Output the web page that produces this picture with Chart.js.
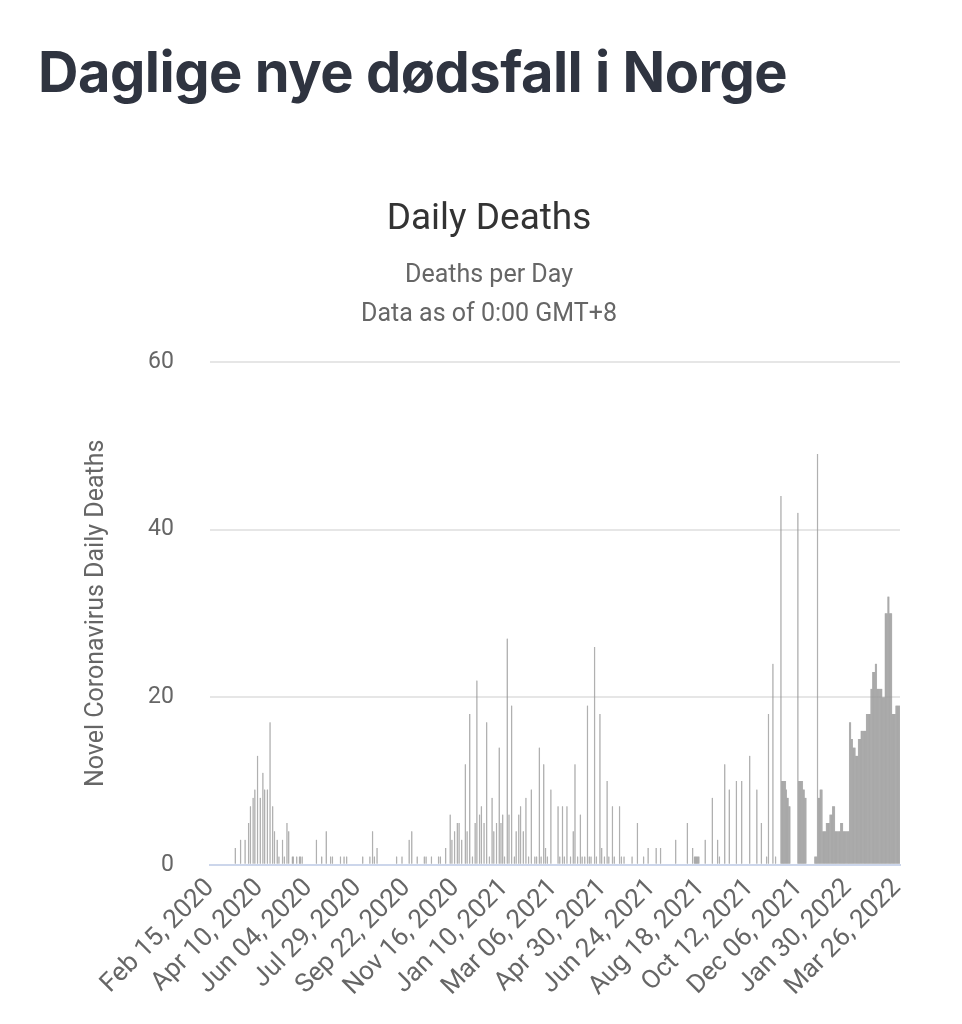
<!DOCTYPE html>
<html>
<head>
<meta charset="utf-8">
<script src="https://cdn.jsdelivr.net/npm/chart.js@4/dist/chart.umd.min.js"></script>
<style>
  body { margin: 0; background: #fff; font-family: Roboto, sans-serif; }
  h1 { position: absolute; left: 38px; top: 38px; margin: 0; font: bold 56px Inter, Roboto, sans-serif; color: #2f3440; letter-spacing: -0.5px; }
  #wrap { position: absolute; left: 0; top: 190px; width: 962px; height: 820px; }
</style>
</head>
<body>
<h1>Daglige nye dødsfall i Norge</h1>
<div id="wrap"><canvas id="c"></canvas></div>
<script>
// first day of the series (year, month 1-12, day) and how many days it runs
const startDate = [2020, 2, 15];
const dayCount = 774;
const tickEvery = 55;
const monthNames = ['Jan','Feb','Mar','Apr','May','Jun','Jul','Aug','Sep','Oct','Nov','Dec'];

// [day since Feb 15 2020, deaths]; days not listed are 0
const deathDays = [
  28,34,39,43,45,48,50,53,56,59,61,64,67,70,72,75,77,81,83,86,88,92,93,97,100,101,103,
  119,125,130,135,137,146,150,153,171,179,182,184,187,209,215,223,226,232,240,242,248,
  256,258,264,269,271,274,277,279,282,286,288,291,294,297,299,302,304,307,310,313,316,318,321,324,326,328,330,333,335,338,341,343,346,348,351,354,357,360,364,366,369,371,374,376,378,382,
  390,392,395,397,400,404,407,409,412,415,417,420,423,425,427,431,433,437,439,442,445,447,451,453,459,461,464,473,479,486,491,500,505,
  522,535,541,543,544,545,546,547,548,555,563,569,571,577,582,590,596,605,613,618,624,626,631,634,
  640,641,642,643,644,645,646,647,648,649,650,659,660,661,662,663,664,665,666,667,668,678,679,680,681
];
const deathValues = [
  2,3,3,5,7,8,9,13,8,11,9,9,17,7,4,3,1,3,1,5,4,1,1,1,1,1,1,
  3,1,4,1,1,1,1,1,1,1,4,1,2,1,1,3,4,1,1,1,1,
  1,1,2,6,3,4,5,5,3,12,4,18,1,5,22,6,7,5,17,1,8,4,5,14,5,6,1,27,6,19,1,4,6,7,4,8,1,9,1,1,14,1,12,2,1,9,
  7,1,7,1,7,1,4,12,1,6,1,1,19,1,1,26,1,18,2,1,10,1,7,1,7,1,1,1,5,1,2,2,2,
  3,5,2,1,1,1,1,1,1,3,8,3,1,12,9,10,10,13,9,5,1,18,24,1,
  44,10,10,10,10,10,9,8,8,7,7,42,10,10,10,10,10,9,9,8,8,1,1,1,49
];
// dense tail: [first day of step, deaths per day until next step]
const stepStarts = [682,684,687,691,695,698,701,707,710,717,719,721,724,727,730,733,736,741,743,746,748,751,754,757,760,762,765,769];
const stepValues = [8,9,4,5,6,7,4,5,4,17,15,14,13,15,16,16,18,21,23,24,21,21,20,30,32,30,18,19];

const yTicks = [0, 20, 40, 60];

const labels = [];
for (let i = 0; i < dayCount; i++) {
  const d = new Date(Date.UTC(startDate[0], startDate[1] - 1, startDate[2] + i));
  labels.push(monthNames[d.getUTCMonth()] + ' ' + String(d.getUTCDate()).padStart(2, '0') + ', ' + d.getUTCFullYear());
}
const values = new Array(dayCount).fill(0);
deathDays.forEach((day, i) => { values[day] = deathValues[i]; });
stepStarts.forEach((start, i) => {
  const end = i + 1 < stepStarts.length ? stepStarts[i + 1] : dayCount;
  for (let d = start; d < end; d++) values[d] = stepValues[i];
});

const gray = '#666666';
new Chart(document.getElementById('c'), {
  type: 'bar',
  data: {
    labels: labels,
    datasets: [{
      data: values,
      backgroundColor: '#999999',
      borderColor: '#999999',
      borderWidth: { left: 0.6, right: 0.6, top: 0, bottom: 0 },
      borderSkipped: 'bottom',
      barPercentage: 1,
      categoryPercentage: 1
    }]
  },
  options: {
    responsive: true,
    maintainAspectRatio: false,
    animation: false,
    layout: { padding: { left: 78, right: 62, top: 0, bottom: 0 } },
    plugins: {
      legend: { display: false },
      tooltip: { enabled: false },
      title: {
        display: true, text: 'Daily Deaths', color: '#333333',
        font: { family: 'Roboto', size: 37, weight: 'normal' },
        padding: { top: 8, bottom: 14 }
      },
      subtitle: {
        display: true, text: ['Deaths per Day', 'Data as of 0:00 GMT+8'], color: gray,
        font: { family: 'Roboto', size: 25, lineHeight: 1.55 }, padding: { bottom: 28 }
      }
    },
    scales: {
      x: {
        grid: { display: false, drawTicks: false },
        border: { color: '#ccd6eb', width: 2 },
        ticks: {
          autoSkip: false, maxRotation: 45, minRotation: 45, color: gray,
          font: { family: 'Roboto', size: 26 }, padding: 8,
          callback: function (v, i) { return i % tickEvery === 0 ? labels[i] : null; }
        }
      },
      y: {
        min: yTicks[0], max: yTicks[yTicks.length - 1],
        afterBuildTicks: axis => { axis.ticks = yTicks.map(v => ({ value: v })); },
        grid: { color: '#e6e6e6', lineWidth: 2, drawTicks: false },
        border: { display: false },
        ticks: { color: gray, font: { family: 'Roboto', size: 23 }, padding: 36 },
        title: {
          display: true, text: 'Novel Coronavirus Daily Deaths', color: gray,
          font: { family: 'Roboto', size: 25 }, padding: { bottom: 0 }
        }
      }
    }
  }
});
</script>
</body>
</html>
